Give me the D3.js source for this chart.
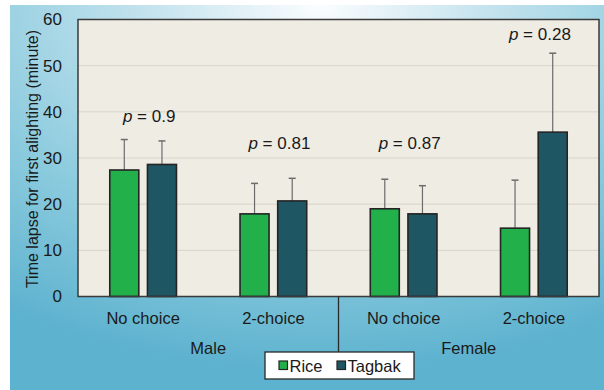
<!DOCTYPE html>
<html>
<head>
<meta charset="utf-8">
<script src="https://cdn.jsdelivr.net/npm/d3@7"></script>
<style>
  html, body { margin: 0; padding: 0; background: #ffffff; }
  svg { display: block; }
  text { font-family: "Liberation Sans", Arial, sans-serif; fill: #1a1a1a; }
</style>
</head>
<body>
<svg id="chart" width="604" height="390"></svg>
<script>
// Time lapse (minutes) before first alighting, by sex and test type
const sexes = ["Male", "Female"];
const groups = ["Male|No choice", "Male|2-choice", "Female|No choice", "Female|2-choice"];
const hosts = ["Rice", "Tagbak"];
const riceMean = [27.4, 17.9, 19.0, 14.8];
const riceErr = [6.6, 6.6, 6.4, 10.4];
const tagbakMean = [28.6, 20.7, 17.9, 35.6];
const tagbakErr = [5.1, 4.9, 6.1, 17.1];
const pLabels = ["0.9", "0.81", "0.87", "0.28"];
const pLabelLevel = [37.8, 31.9, 31.9, 55.6];
const yTicks = [0, 10, 20, 30, 40, 50, 60];
const hostColors = ["#22b04b", "#1f5664"];

const svg = d3.select("#chart");
const W = 604, H = 390;
const margin = { left: 78, right: 5, top: 19.5, bottom: 93.5 };
const plotW = W - margin.left - margin.right;
const plotH = H - margin.top - margin.bottom;

// Background
const defs = svg.append("defs");
const grad = defs.append("radialGradient")
  .attr("id", "bg").attr("cx", "52%").attr("cy", "0%").attr("r", "95%")
  .attr("fx", "52%").attr("fy", "0%");
grad.append("stop").attr("offset", "0%").attr("stop-color", "#fbfdfe");
grad.append("stop").attr("offset", "30%").attr("stop-color", "#c4e3ee");
grad.append("stop").attr("offset", "65%").attr("stop-color", "#8ccbde");
grad.append("stop").attr("offset", "100%").attr("stop-color", "#5db2cf");
svg.append("rect").attr("x", 10).attr("y", 5).attr("width", W - 10).attr("height", H - 5)
  .attr("fill", "url(#bg)");

const g = svg.append("g").attr("transform", `translate(${margin.left},${margin.top})`);

const x = d3.scaleBand().domain(groups).range([0, plotW]).paddingInner(0).paddingOuter(0);
const xInner = d3.scaleBand().domain(hosts).range([x.bandwidth() * 0.244, x.bandwidth() * 0.756]).paddingInner(0.23);
const y = d3.scaleLinear().domain([0, 60]).range([plotH, 0]);

// Plot area
g.append("rect").attr("width", plotW).attr("height", plotH).attr("fill", "#efece3");

// Grid lines
g.append("g").selectAll("line").data(yTicks.slice(1, -1)).join("line")
  .attr("x1", 0).attr("x2", plotW)
  .attr("y1", d => y(d)).attr("y2", d => y(d))
  .attr("stroke", "#d8d3cb").attr("stroke-width", 1);

// Y axis labels
const yAxis = d3.axisLeft(y).tickValues(yTicks).tickSize(0).tickPadding(16);
const ya = g.append("g").call(yAxis);
ya.select(".domain").remove();
ya.selectAll("text").style("font-size", "17px").attr("fill", "#1a1a1a")
  .style("font-family", "'Liberation Sans', Arial, sans-serif");

// Bars and error bars
const seriesData = hosts.map((h, i) => ({
  host: h,
  means: i === 0 ? riceMean : tagbakMean,
  errs: i === 0 ? riceErr : tagbakErr,
  color: hostColors[i]
}));

seriesData.forEach(s => {
  const items = groups.map((gr, j) => ({ group: gr, mean: s.means[j], err: s.errs[j] }));
  const cx = d => x(d.group) + xInner(s.host) + xInner.bandwidth() / 2;
  // error bar stems and caps
  g.append("g").selectAll("line").data(items).join("line")
    .attr("x1", cx).attr("x2", cx)
    .attr("y1", d => y(d.mean)).attr("y2", d => y(d.mean + d.err))
    .attr("stroke", "#6b6b6b").attr("stroke-width", 1.2);
  g.append("g").selectAll("line").data(items).join("line")
    .attr("x1", d => cx(d) - 3.5).attr("x2", d => cx(d) + 3.5)
    .attr("y1", d => y(d.mean + d.err)).attr("y2", d => y(d.mean + d.err))
    .attr("stroke", "#6b6b6b").attr("stroke-width", 1.5);
  g.append("g").selectAll("rect").data(items).join("rect")
    .attr("x", d => x(d.group) + xInner(s.host))
    .attr("y", d => y(d.mean))
    .attr("width", xInner.bandwidth())
    .attr("height", d => plotH - y(d.mean))
    .attr("fill", s.color)
    .attr("stroke", "#242424").attr("stroke-width", 1.6);
});

// p-value labels above each group
const pText = g.append("g").selectAll("text").data(groups).join("text")
  .attr("x", d => x(d) + x.bandwidth() / 2 + 6)
  .attr("y", (d, j) => y(pLabelLevel[j]))
  .attr("text-anchor", "middle")
  .style("font-size", "17px");
pText.append("tspan").attr("font-style", "italic").text("p");
pText.append("tspan").text((d, j) => " = " + pLabels[j]);

// Plot border
g.append("rect").attr("width", plotW).attr("height", plotH)
  .attr("fill", "none").attr("stroke", "#3a3a3a").attr("stroke-width", 1.5);

// Category labels
g.append("g").selectAll("text").data(groups).join("text")
  .attr("x", d => x(d) + x.bandwidth() / 2)
  .attr("y", plotH + 27)
  .attr("text-anchor", "middle")
  .style("font-size", "16.5px")
  .text(d => d.split("|")[1]);

// Sex labels, centred under each pair of groups
g.append("g").selectAll("text").data(sexes).join("text")
  .attr("x", (d, i) => x(groups[2 * i]) + x.bandwidth())
  .attr("y", plotH + 57)
  .attr("text-anchor", "middle")
  .style("font-size", "16.5px")
  .text(d => d);

// Separator between sexes
g.append("line")
  .attr("x1", x(groups[2])).attr("x2", x(groups[2]))
  .attr("y1", plotH).attr("y2", plotH + 56)
  .attr("stroke", "#2a2a2a").attr("stroke-width", 1.3);

// Y axis title
svg.append("text")
  .attr("transform", `translate(38,${margin.top + plotH / 2 + 1}) rotate(-90)`)
  .attr("text-anchor", "middle")
  .style("font-size", "16px")
  .text("Time lapse for first alighting (minute)");

// Legend
const lg = svg.append("g").attr("transform", "translate(265,352)");
lg.append("rect").attr("width", 149).attr("height", 27)
  .attr("fill", "#ffffff").attr("stroke", "#2a2a2a").attr("stroke-width", 1.3);
const legendX = [14, 72];
hosts.forEach((h, i) => {
  lg.append("rect").attr("x", legendX[i]).attr("y", 9).attr("width", 8.5).attr("height", 8.5)
    .attr("fill", hostColors[i]).attr("stroke", "#242424").attr("stroke-width", 1.2);
  lg.append("text").attr("x", legendX[i] + 10.5).attr("y", 19.5)
    .style("font-size", "16.5px").text(h);
});
</script>
</body>
</html>
